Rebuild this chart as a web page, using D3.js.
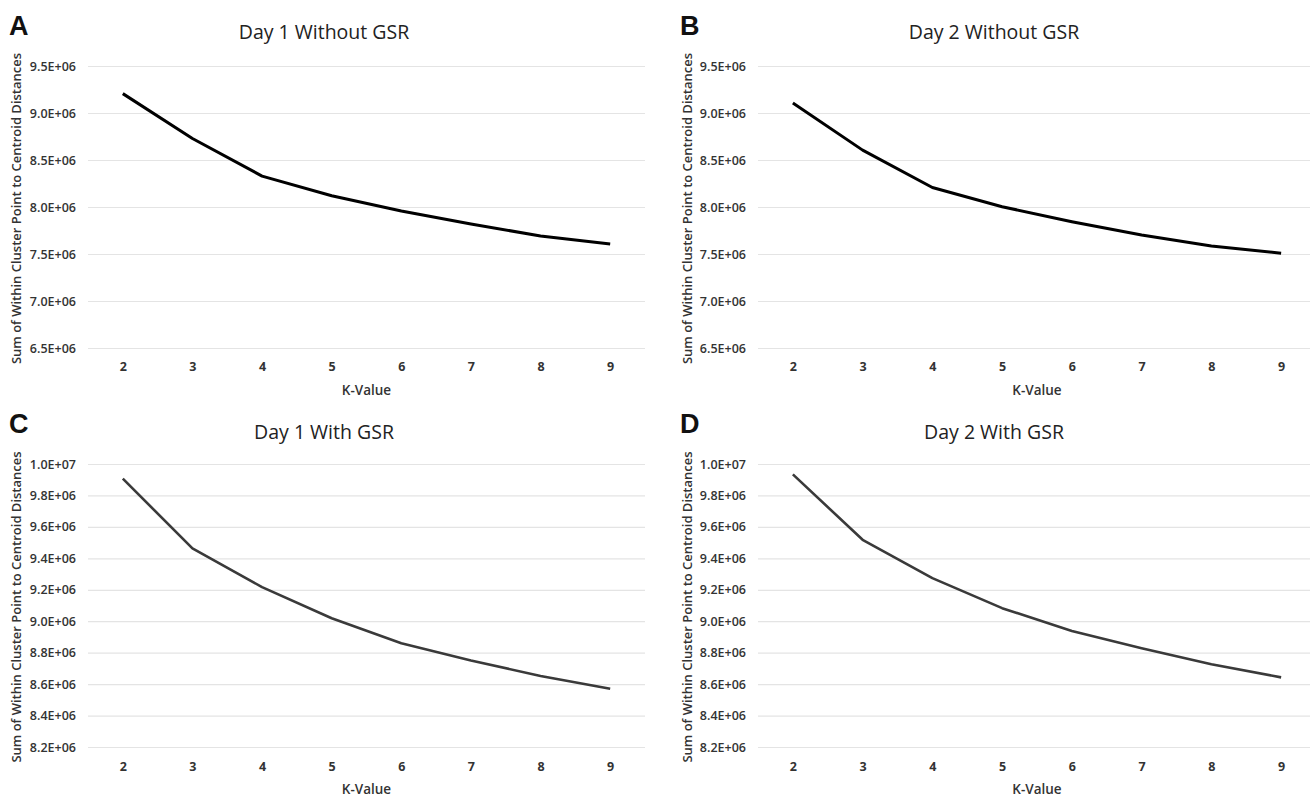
<!DOCTYPE html>
<html>
<head>
<meta charset="utf-8">
<script src="https://cdn.jsdelivr.net/npm/d3@7"></script>
<style>
  body { margin: 0; background: #fff; }
  svg { display: block; font-family: "Open Sans", sans-serif; }
</style>
</head>
<body>
<div id="chart"></div>
<script>
var kValues = [2, 3, 4, 5, 6, 7, 8, 9];

var day1Without = [9.206e6, 8.729e6, 8.329e6, 8.120e6, 7.957e6, 7.819e6, 7.692e6, 7.607e6];
var day2Without = [9.107e6, 8.605e6, 8.208e6, 8.003e6, 7.844e6, 7.702e6, 7.586e6, 7.508e6];
var day1With = [9.907e6, 9.463e6, 9.217e6, 9.019e6, 8.860e6, 8.750e6, 8.652e6, 8.571e6];
var day2With = [9.934e6, 9.518e6, 9.274e6, 9.083e6, 8.938e6, 8.828e6, 8.726e6, 8.643e6];

var ticksWithout = [6.5e6, 7.0e6, 7.5e6, 8.0e6, 8.5e6, 9.0e6, 9.5e6];
var ticksWith = [8.2e6, 8.4e6, 8.6e6, 8.8e6, 9.0e6, 9.2e6, 9.4e6, 9.6e6, 9.8e6, 10.0e6];

var titles = ['Day 1 Without GSR', 'Day 2 Without GSR', 'Day 1 With GSR', 'Day 2 With GSR'];
var letters = ['A', 'B', 'C', 'D'];

var W = 1310, H = 798;

// layout for each panel (plot box + where the labels go)
var cols = [{ left: 88, right: 645, letterX: 9, titleX: 324, yTitleX: 16, tickX: 76 },
            { left: 758, right: 1316, letterX: 680, titleX: 994, yTitleX: 687, tickX: 746 }];
var rows = [{ top: 66, bottom: 348, letterY: 35, titleY: 39, xLabY: 371, xTitleY: 395 },
            { top: 464, bottom: 747, letterY: 433, titleY: 439, xLabY: 771, xTitleY: 794 }];

var panels = [
  { values: day1Without, ticks: ticksWithout, col: 0, row: 0, stroke: '#000', sw: 3 },
  { values: day2Without, ticks: ticksWithout, col: 1, row: 0, stroke: '#000', sw: 3 },
  { values: day1With, ticks: ticksWith, col: 0, row: 1, stroke: '#3a3a3a', sw: 2.6 },
  { values: day2With, ticks: ticksWith, col: 1, row: 1, stroke: '#3a3a3a', sw: 2.6 }
];

function sci(d) {
  var e = Math.floor(Math.log10(d) + 1e-9);
  var m = d / Math.pow(10, e);
  return m.toFixed(1) + 'E+' + (e < 10 ? '0' + e : e);
}

var svg = d3.select('#chart').append('svg')
            .attr('width', W)
            .attr('height', H);

panels.forEach(function(p, i) {
  var c = cols[p.col], r = rows[p.row];

  var x = d3.scalePoint().domain(kValues).range([c.left, c.right]).padding(0.5);
  var y = d3.scaleLinear().domain(d3.extent(p.ticks)).range([r.bottom, r.top]);

  var g = svg.append('g');

  // gridlines
  g.append('g')
    .attr('transform', 'translate(' + c.left + ',0)')
    .call(d3.axisLeft(y).tickValues(p.ticks).tickSize(-(c.right - c.left)).tickFormat(''))
    .call(function(s) { s.select('.domain').remove(); })
    .selectAll('line').attr('stroke', '#e4e4e4').attr('stroke-width', 1.2);

  // y tick labels
  g.append('g')
    .attr('transform', 'translate(' + c.tickX + ',0)')
    .call(d3.axisLeft(y).tickValues(p.ticks).tickSize(0).tickPadding(0).tickFormat(sci))
    .call(function(s) { s.select('.domain').remove(); })
    .selectAll('text')
    .attr('font-family', '"Open Sans", sans-serif')
    .attr('font-size', 12.5)
    .attr('font-weight', 600)
    .attr('fill', '#333');

  // x tick labels
  g.append('g')
    .attr('transform', 'translate(0,' + r.xLabY + ')')
    .call(d3.axisBottom(x).tickSize(0).tickPadding(0))
    .call(function(s) { s.select('.domain').remove(); })
    .selectAll('text')
    .attr('dy', '0')
    .attr('font-family', '"Open Sans", sans-serif')
    .attr('font-size', 12.5)
    .attr('font-weight', 700)
    .attr('fill', '#333');

  // the line
  var line = d3.line()
    .x(function(d, j) { return x(kValues[j]); })
    .y(function(d) { return y(d); });

  g.append('path')
    .datum(p.values)
    .attr('d', line)
    .attr('fill', 'none')
    .attr('stroke', p.stroke)
    .attr('stroke-width', p.sw)
    .attr('stroke-linejoin', 'round');

  // titles
  g.append('text')
    .attr('x', c.titleX).attr('y', r.titleY)
    .attr('text-anchor', 'middle')
    .attr('font-size', 19.5)
    .attr('fill', '#222')
    .text(titles[i]);

  g.append('text')
    .attr('x', c.letterX).attr('y', r.letterY)
    .attr('font-family', '"Liberation Sans", Arial, sans-serif')
    .attr('font-weight', 'bold')
    .attr('font-size', 27)
    .attr('fill', '#111')
    .text(letters[i]);

  g.append('text')
    .attr('x', (c.left + c.right) / 2).attr('y', r.xTitleY)
    .attr('text-anchor', 'middle')
    .attr('font-size', 13.5)
    .attr('font-weight', 600)
    .attr('fill', '#333')
    .text('K-Value');

  g.append('text')
    .attr('transform', 'translate(' + c.yTitleX + ',' + ((r.top + r.bottom) / 2 + 1.5) + ') rotate(-90)')
    .attr('text-anchor', 'middle')
    .attr('dy', '0.35em')
    .attr('font-size', 13)
    .attr('font-weight', 600)
    .attr('fill', '#333')
    .text('Sum of Within Cluster Point to Centroid Distances');
});
</script>
</body>
</html>
